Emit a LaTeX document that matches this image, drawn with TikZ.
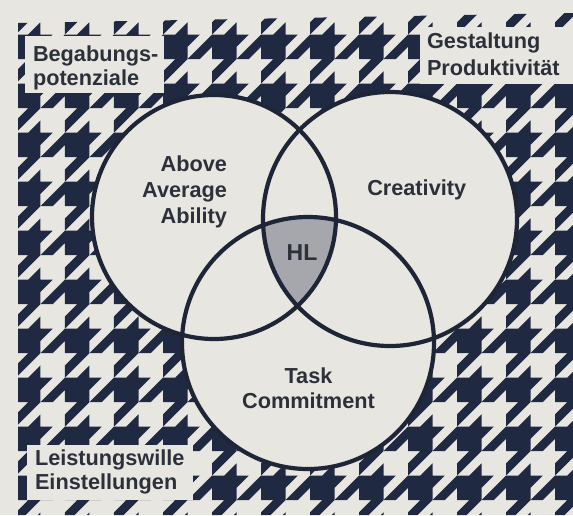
\documentclass[tikz,border=0pt]{standalone}
\usepackage{fontspec}
\setmainfont{Liberation Sans}

\definecolor{paper}{HTML}{E8E6E1}
\definecolor{navy}{HTML}{1F2A42}
\definecolor{ink}{HTML}{2C303A}
\definecolor{rim}{HTML}{1E2536}
\definecolor{hlgrey}{HTML}{A5A7AD}

\tikzset{
  ring/.style={draw=rim, line width=4.2pt},
  lbl/.style={text=ink, font=\bfseries\fontsize{21.7pt}{#1}\selectfont},
  lbl/.default=24pt,
  hltext/.style={text=ink, font=\bfseries\fontsize{23pt}{24pt}\selectfont},
  cornerbox/.style={fill=paper}
}

\begin{document}
\begin{tikzpicture}[y=1pt, x=1pt, yscale=-1, inner sep=0pt, outer sep=0pt]
\useasboundingbox (0,0) rectangle (573,515);
\fill[paper] (0,0) rectangle (573,515);

% houndstooth ground: one tooth per 4x4 tile
\begin{scope}
\clip (18,23) -- (573,13) -- (573,515) -- (18,515) -- cycle;
\begin{scope}[x=12.25pt, y=12.25pt]
\foreach \i in {0,...,11}{
  \foreach \j in {-1,...,10}{
    \fill[navy] ({4*\i+1.306-2},{4*\j+0.816+4}) -- ++(2,-2) -- ++(1,0)
      -- ++(1,-1) -- ++(0,1) -- ++(1,0) -- ++(-1,1) -- ++(0,1)
      -- ++(-2,2) -- ++(0,-1) -- ++(1,-1) -- ++(-1,0) -- ++(0,-1)
      -- ++(-1,1) -- cycle;
  }
}
\end{scope}
\end{scope}

% corner boxes
\fill[cornerbox] (25,36) rectangle (164,93);
\fill[cornerbox] (420,27) rectangle (573,84);
\fill[cornerbox] (27,445) rectangle (193,500);

% base anchor sits on the last line
\node[lbl=23.3pt, align=left, anchor=base west] (gifts) at (33,85) {Begabungs-\\potenziale};
\node[lbl=26.7pt, align=left, anchor=base west] (design) at (427,75) {Gestaltung\\Produktivität};
\node[lbl=24pt, align=left, anchor=base west] (will) at (35,489) {Leistungswille\\Einstellungen};

% the three rings
\coordinate (ability) at (214,217);
\coordinate (creativity) at (390,219);
\coordinate (task) at (308,343);

\fill[paper] (ability) circle[radius=122];
\fill[paper] (creativity) circle[radius=127];
\fill[paper] (task) circle[radius=126];

\begin{scope}
\clip (ability) circle[radius=122];
\clip (creativity) circle[radius=127];
\fill[hlgrey] (task) circle[radius=126];
\end{scope}

\path[ring] (ability) circle[radius=122];
\path[ring] (creativity) circle[radius=127];
\path[ring] (task) circle[radius=126];

\node[lbl=25.6pt, align=right, anchor=base east] (abilitytxt) at (227,223) {Above\\Average\\Ability};
\node[lbl, anchor=base] (creativitytxt) at (416.7,195) {Creativity};
\node[lbl=25pt, align=center, anchor=base] (tasktxt) at (308.5,408) {Task\\Commitment};
\node[hltext, anchor=base] (hl) at (302,260) {HL};

\end{tikzpicture}
\end{document}
